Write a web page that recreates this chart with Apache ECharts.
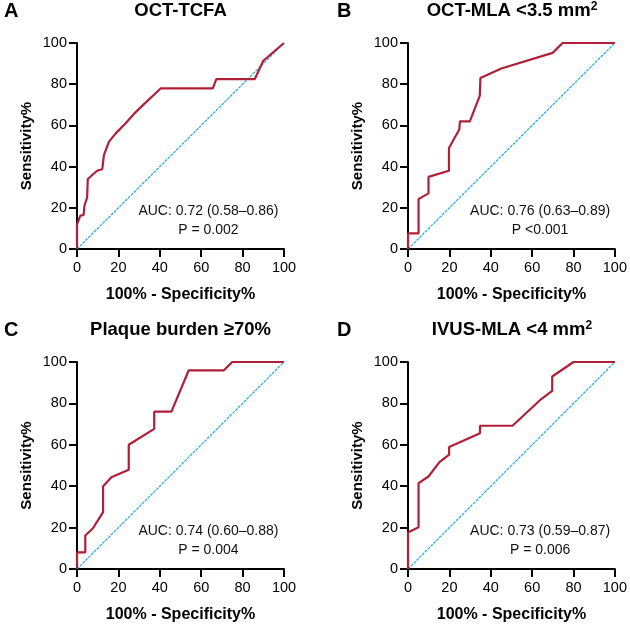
<!DOCTYPE html>
<html>
<head>
<meta charset="utf-8">
<script src="https://cdn.jsdelivr.net/npm/echarts@6/dist/echarts.min.js"></script>
<style>
html,body{margin:0;padding:0;background:#fff;}
#chart{width:630px;height:627px;}
</style>
</head>
<body>
<div id="chart"></div>
<script>
// ---- Data ----
const xTicks = [0, 20, 40, 60, 80, 100];
const yTicks = [0, 20, 40, 60, 80, 100];

const panelLetters = ['A', 'B', 'C', 'D'];
const panelTitles = ['OCT-TCFA', 'OCT-MLA <3.5 mm', 'Plaque burden \u226570%', 'IVUS-MLA <4 mm'];
const titleSup = ['', '2', '', '2'];
const aucTexts = ['AUC: 0.72 (0.58\u20130.86)', 'AUC: 0.76 (0.63\u20130.89)', 'AUC: 0.74 (0.60\u20130.88)', 'AUC: 0.73 (0.59\u20130.87)'];
const pTexts = ['P = 0.002', 'P <0.001', 'P = 0.004', 'P = 0.006'];

// 100% - Specificity% (x) and Sensitivity% (y)
const fprA = [0, 0, 1.6, 3.2, 3.6, 4.9, 5.2, 9.7, 12.2, 13, 15.4, 18.6, 23.5, 27.6, 31.6, 40.5, 65.6, 67.3, 85.9, 90, 100];
const tprA = [0, 12, 16.2, 16.5, 21, 25, 34, 38, 38.7, 45.6, 52, 56, 61, 65.7, 69.6, 78, 78, 82.5, 82.5, 91.4, 100];

const fprB = [0, 0, 5.1, 5.1, 9.9, 9.9, 19.8, 19.8, 24.8, 25.1, 29.9, 34.7, 35, 45.1, 69.9, 74.7, 100];
const tprB = [0, 7.6, 7.6, 24.2, 27, 35, 38, 49, 58, 62, 62, 74.5, 83, 87.6, 95.2, 100, 100];

const fprC = [0, 0, 4, 4, 7.7, 12.6, 12.6, 16.6, 25, 25, 37.3, 37.3, 45.6, 54, 71, 75, 100];
const tprC = [0, 8, 8, 16.2, 19.7, 27.5, 40, 44.3, 48, 60, 67.7, 76, 76, 96, 96, 100, 100];

const fprD = [0, 0, 5.1, 5.1, 9.9, 15.2, 19.9, 19.9, 34.8, 34.8, 50.5, 64.4, 69.7, 69.7, 80, 100];
const tprD = [0, 17.6, 20.2, 41.5, 44.7, 51.6, 55.2, 58.9, 65.6, 69.2, 69.2, 82.1, 86.1, 93, 100, 100];

const refX = [0, 100];
const refY = [0, 100];

const fprs = [fprA, fprB, fprC, fprD];
const tprs = [tprA, tprB, tprC, tprD];

// ---- Layout ----
const grids = [
  {left: 77, top: 43, width: 207, height: 206},
  {left: 408, top: 43, width: 208, height: 206},
  {left: 77, top: 362, width: 207, height: 207},
  {left: 408, top: 362, width: 208, height: 207}
];
const FONT = '"Liberation Sans", Arial, Helvetica, sans-serif';
const RED = '#b01f38';
const BLUE = '#2aa7e0';

const option = {
  animation: false,
  backgroundColor: '#fff',
  grid: grids.map(g => Object.assign({containLabel: false}, g)),
  xAxis: [], yAxis: [], series: [], graphic: []
};

grids.forEach((g, i) => {
  const axisCommon = {
    type: 'value', min: 0, max: 100, interval: 20, gridIndex: i,
    axisLine: {show: true, onZero: false, lineStyle: {color: '#000', width: 2}},
    axisTick: {show: true, inside: false, length: 8, lineStyle: {color: '#000', width: 2}},
    splitLine: {show: false},
    axisLabel: {color: '#000', fontSize: 14.5, fontFamily: FONT},
    nameLocation: 'middle',
    nameTextStyle: {color: '#000', fontWeight: 'bold', fontFamily: FONT}
  };
  option.xAxis.push(Object.assign({}, axisCommon, {
    name: '100% - Specificity%', nameGap: 38,
    axisLabel: Object.assign({}, axisCommon.axisLabel, {margin: 11}),
    nameTextStyle: Object.assign({}, axisCommon.nameTextStyle, {fontSize: 16})
  }));
  option.yAxis.push(Object.assign({}, axisCommon, {
    name: 'Sensitivity%', nameGap: 43,
    axisLabel: Object.assign({}, axisCommon.axisLabel, {margin: 10}),
    nameTextStyle: Object.assign({}, axisCommon.nameTextStyle, {fontSize: 15})
  }));
  option.series.push({
    type: 'line', xAxisIndex: i, yAxisIndex: i, symbol: 'none', silent: true,
    data: refX.map((x, k) => [x, refY[k]]),
    lineStyle: {color: BLUE, width: 1.2, type: [3, 1]}, z: 2
  });
  option.series.push({
    type: 'line', xAxisIndex: i, yAxisIndex: i, symbol: 'none', silent: true,
    data: fprs[i].map((x, k) => [x, tprs[i][k]]),
    lineStyle: {color: RED, width: 2.2}, z: 3
  });

  const cx = g.left + g.width / 2;
  const rowTitleY = i < 2 ? 11 : 330;
  option.graphic.push({
    type: 'text', x: i % 2 === 0 ? 4 : 337, y: rowTitleY,
    style: {text: panelLetters[i], fill: '#000', font: 'bold 20px ' + FONT,
            textAlign: 'left', textVerticalAlign: 'middle'}
  });
  const t = titleSup[i]
    ? '{m|' + panelTitles[i] + '}{s|' + titleSup[i] + '}'
    : '{m|' + panelTitles[i] + '}';
  option.graphic.push({
    type: 'text', x: cx, y: rowTitleY,
    style: {
      text: t, textAlign: 'center', textVerticalAlign: 'middle',
      rich: {
        m: {fontSize: 18.5, fontWeight: 'bold', fontFamily: FONT, fill: '#000', color: '#000', lineHeight: 22},
        s: {fontSize: 12, fontWeight: 'bold', fontFamily: FONT, fill: '#000', color: '#000', lineHeight: 22, padding: [0, 0, 9, 0]}
      }
    }
  });
  const ax = g.left + g.width * 0.635;
  const bottom = g.top + g.height;
  option.graphic.push({
    type: 'text', x: ax, y: bottom - 38,
    style: {text: aucTexts[i], fill: '#111', font: '14px ' + FONT,
            textAlign: 'center', textVerticalAlign: 'middle'}
  });
  option.graphic.push({
    type: 'text', x: ax, y: bottom - 19,
    style: {text: pTexts[i], fill: '#111', font: '14px ' + FONT,
            textAlign: 'center', textVerticalAlign: 'middle'}
  });
});

const chart = echarts.init(document.getElementById('chart'), null, {renderer: 'canvas'});
chart.setOption(option);
</script>
</body>
</html>
